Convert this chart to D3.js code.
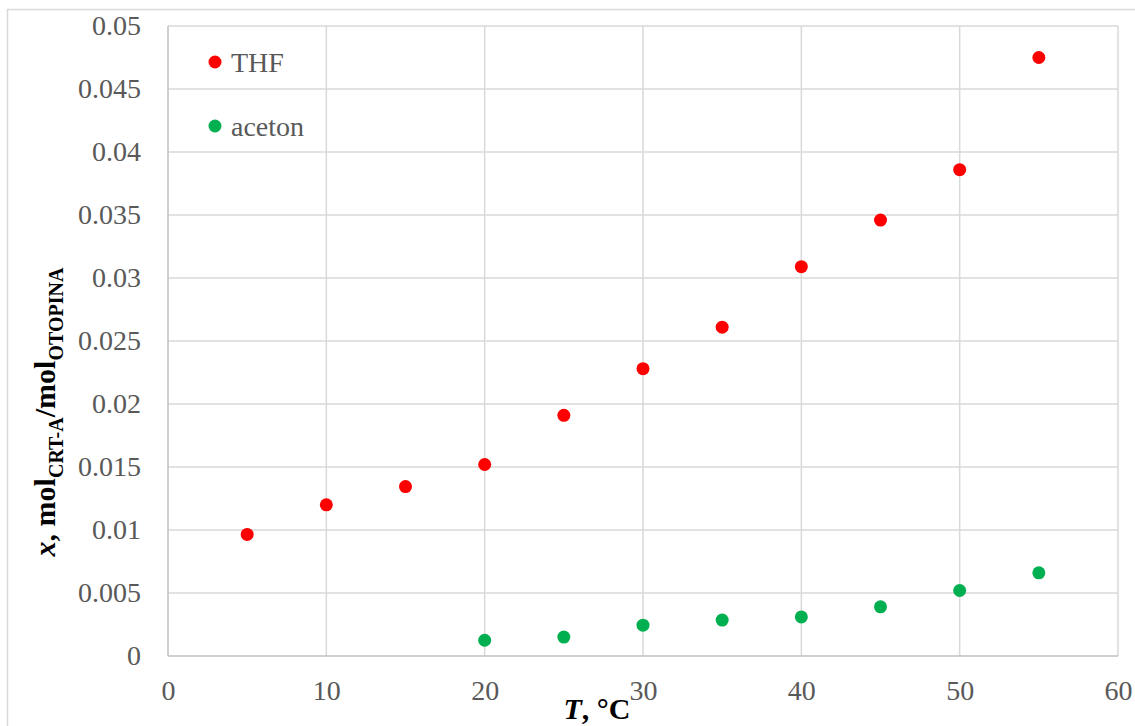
<!DOCTYPE html>
<html>
<head>
<meta charset="utf-8">
<script src="https://cdn.jsdelivr.net/npm/d3@7"></script>
<style>
  body { margin: 0; background: #fff; }
  svg { display: block; }
  svg text { font-family: "Liberation Serif", "Times New Roman", serif; }
</style>
</head>
<body>
<div id="chart"></div>
<script>
// temperatures, degC
var tempsTHF = [5, 10, 15, 20, 25, 30, 35, 40, 45, 50, 55];
var valuesTHF = [0.00965, 0.0120, 0.01345, 0.0152, 0.0191, 0.0228, 0.0261, 0.0309, 0.0346, 0.0386, 0.0475];
var tempsAceton = [20, 25, 30, 35, 40, 45, 50, 55];
var valuesAceton = [0.00125, 0.0015, 0.00245, 0.00285, 0.0031, 0.0039, 0.0052, 0.0066];

var xTicks = [0, 10, 20, 30, 40, 50, 60];
var yTicks = [0, 0.005, 0.01, 0.015, 0.02, 0.025, 0.03, 0.035, 0.04, 0.045, 0.05];
var seriesNames = ["THF", "aceton"];
var seriesColors = ["#ff0000", "#00b050"];

var width = 1135, height = 726;
var margin = {left: 168, top: 26, right: 17, bottom: 70};

var svg = d3.select("#chart").append("svg")
    .attr("width", width)
    .attr("height", height);

// outer chart border
svg.append("rect")
    .attr("x", 7.5).attr("y", 9.5)
    .attr("width", width).attr("height", height)
    .attr("fill", "none")
    .attr("stroke", "#d9d9d9")
    .attr("stroke-width", 1.5);

var x = d3.scaleLinear().domain([0, 60]).range([margin.left, width - margin.right]);
var y = d3.scaleLinear().domain([0, 0.05]).range([height - margin.bottom, margin.top]);

// gridlines
svg.append("g").selectAll("line")
    .data(xTicks.slice(1))
    .enter().append("line")
    .attr("x1", d => x(d)).attr("x2", d => x(d))
    .attr("y1", y(0)).attr("y2", y(0.05))
    .attr("stroke", "#d9d9d9").attr("stroke-width", 1.5);

svg.append("g").selectAll("line")
    .data(yTicks.slice(1))
    .enter().append("line")
    .attr("x1", x(0)).attr("x2", x(60))
    .attr("y1", d => y(d)).attr("y2", d => y(d))
    .attr("stroke", "#d9d9d9").attr("stroke-width", 1.5);

// axis lines
svg.append("line")
    .attr("x1", x(0)).attr("x2", x(60))
    .attr("y1", y(0)).attr("y2", y(0))
    .attr("stroke", "#bfbfbf").attr("stroke-width", 1.5);
svg.append("line")
    .attr("x1", x(0)).attr("x2", x(0))
    .attr("y1", y(0)).attr("y2", y(0.05))
    .attr("stroke", "#bfbfbf").attr("stroke-width", 1.5);

// tick labels
var xAxis = d3.axisBottom(x).tickValues(xTicks).tickSize(0).tickPadding(24);
svg.append("g")
    .attr("transform", "translate(0," + y(0) + ")")
    .call(xAxis)
    .call(g => g.select(".domain").remove())
    .selectAll("text")
    .style("font-family", "'Liberation Serif', serif")
    .style("font-size", "28px")
    .attr("fill", "#595959");

var yAxis = d3.axisLeft(y).tickValues(yTicks).tickSize(0).tickPadding(27)
    .tickFormat(d => String(+d.toFixed(3)));
svg.append("g")
    .attr("transform", "translate(" + x(0) + ",0)")
    .call(yAxis)
    .call(g => g.select(".domain").remove())
    .selectAll("text")
    .style("font-family", "'Liberation Serif', serif")
    .style("font-size", "28px")
    .attr("fill", "#595959");

// points
var seriesData = [
    tempsTHF.map((t, i) => [t, valuesTHF[i]]),
    tempsAceton.map((t, i) => [t, valuesAceton[i]])
];
seriesData.forEach(function(pts, s){
    svg.append("g").selectAll("circle")
        .data(pts)
        .enter().append("circle")
        .attr("cx", d => x(d[0]))
        .attr("cy", d => y(d[1]))
        .attr("r", 6.5)
        .attr("fill", seriesColors[s]);
});

// legend
var legend = svg.append("g").selectAll("g")
    .data(seriesNames)
    .enter().append("g")
    .attr("transform", (d, i) => "translate(215," + (62 + i * 64) + ")");
legend.append("circle")
    .attr("r", 6.5)
    .attr("fill", (d, i) => seriesColors[i]);
legend.append("text")
    .attr("x", 16)
    .attr("y", 10)
    .style("font-size", "28px")
    .attr("fill", "#595959")
    .text(d => d);

// axis titles
var xt = svg.append("text")
    .attr("x", 597)
    .attr("y", 719)
    .attr("text-anchor", "middle")
    .style("font-size", "30px")
    .attr("font-weight", "bold")
    .attr("fill", "#000");
xt.append("tspan").attr("font-style", "italic").text("T");
xt.append("tspan").text(", °C");

var yt = svg.append("text")
    .attr("transform", "translate(55,412) rotate(-90)")
    .attr("text-anchor", "middle")
    .style("font-size", "30px")
    .attr("font-weight", "bold")
    .attr("fill", "#000");
yt.append("tspan").attr("font-style", "italic").text("x");
yt.append("tspan").text(", mol");
yt.append("tspan").style("font-size", "20px").attr("dy", 8).text("CRT-A");
yt.append("tspan").attr("dy", -8).text("/mol");
yt.append("tspan").style("font-size", "20px").attr("dy", 8).text("OTOPINA");
</script>
</body>
</html>
